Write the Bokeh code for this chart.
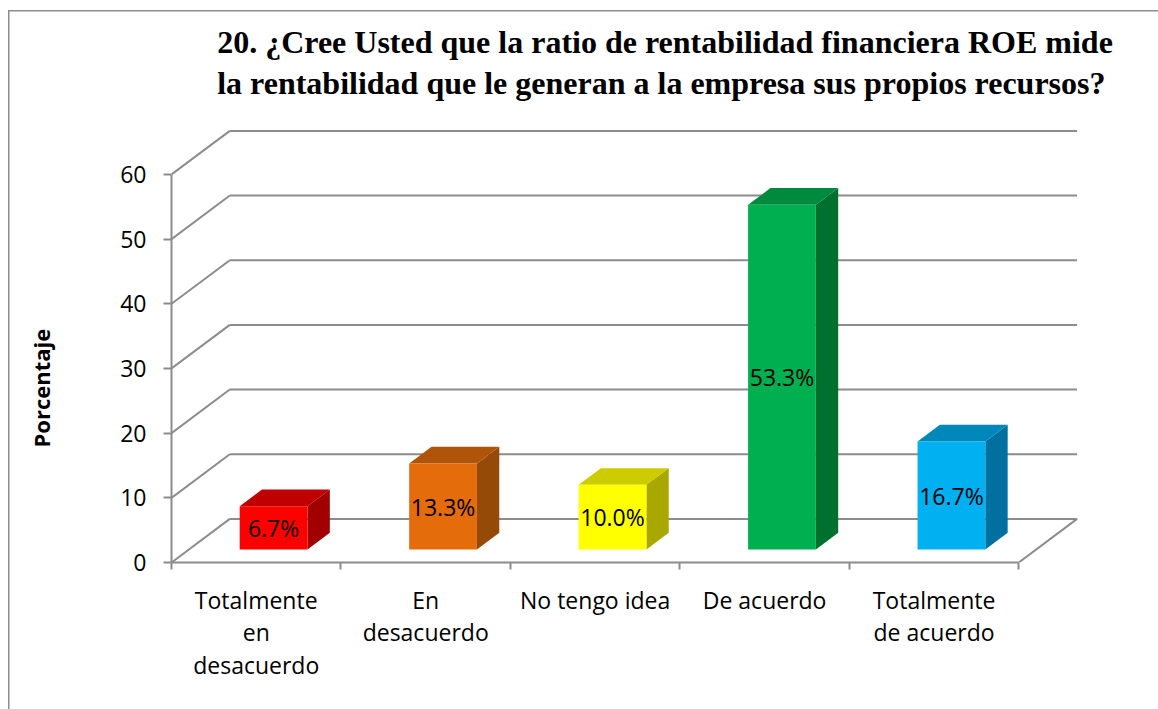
from bokeh.plotting import figure
from bokeh.models import Range1d, FixedTicker, Title
from bokeh.embed import file_html
from bokeh.resources import INLINE
from bokeh.core.properties import value

# ---------------- data ----------------
categories = ["Totalmente\nen\ndesacuerdo", "En\ndesacuerdo", "No tengo idea",
              "De acuerdo", "Totalmente\nde acuerdo"]
values = [6.7, 13.3, 10.0, 53.3, 16.7]
value_labels = ["6.7%", "13.3%", "10.0%", "53.3%", "16.7%"]
y_ticks = [0, 10, 20, 30, 40, 50, 60]
front_colors = ["#FF0000", "#E46C0A", "#FFFF00", "#00B050", "#00B0F0"]
top_colors = ["#C00000", "#B0540A", "#CCCC00", "#008A3E", "#0088BC"]
side_colors = ["#A00000", "#964A08", "#A8A800", "#00702F", "#0070A0"]
title_text = ("20. ¿Cree Usted que la ratio de rentabilidad financiera ROE mide\n"
              "la rentabilidad que le generan a la empresa sus propios recursos?")
y_title = "Porcentaje"

# ---------------- layout ----------------
W, H = 1158, 709
ML, MR, MT, MB = 171, 0, 110, 147
PX_X = 169.46          # pixels per category
PX_Y = 6.467           # pixels per percentage point
x_start = -0.5
x_end = x_start + (W - ML - MR) / PX_X
y_end = (H - MT - MB) / PX_Y
DX = 58.3 / PX_X       # depth offset of the 3D box (x units)
DY = 43.6 / PX_Y       # depth offset of the 3D box (y units)
F1, F2 = 0.298, 0.681  # bar front/back depth fractions
HW = 0.2               # half bar width
GRAY = "#8c8c8c"
n = len(categories)
x_last = n - 0.5

p = figure(width=W, height=H, x_range=Range1d(x_start, x_end), y_range=Range1d(0, y_end),
           output_backend="svg", toolbar_location=None,
           min_border_left=ML, min_border_right=MR, min_border_top=MT, min_border_bottom=MB)
p.grid.visible = False
p.outline_line_color = None
p.background_fill_color = None
p.border_fill_color = None
p.styles = {"background": (
    f"linear-gradient({GRAY},{GRAY}) 8px 10px / 1.5px 100% no-repeat, "
    f"linear-gradient({GRAY},{GRAY}) 8px 10px / 100% 1.5px no-repeat, white")}

# title
p.title.text = title_text
p.title.align = "center"
p.title.text_font = "Liberation Serif"
p.title.text_font_size = "32px"
p.title.text_font_style = "bold"
p.title.text_color = "black"
p.title.text_line_height = 1.15
p.title.standoff = 18

# ---------------- walls / floor ----------------
wall_xs, wall_ys = [], []
for v in y_ticks:
    wall_xs.append([x_start + DX, x_last + DX]); wall_ys.append([v + DY, v + DY])
    wall_xs.append([x_start, x_start + DX]); wall_ys.append([v, v + DY])
wall_xs.append([x_last, x_last + DX]); wall_ys.append([0, DY])
p.multi_line(wall_xs, wall_ys, line_color=GRAY, line_width=2)

# ---------------- bars ----------------
front_xs, front_ys, top_xs, top_ys, side_xs, side_ys = [], [], [], [], [], []
lx, ly = [], []
for i, v in enumerate(values):
    l0, r0 = i - HW + F1 * DX, i + HW + F1 * DX
    l1, r1 = i - HW + F2 * DX, i + HW + F2 * DX
    b0, b1 = F1 * DY, F2 * DY
    front_xs.append([l0, r0, r0, l0]); front_ys.append([b0, b0, v + b0, v + b0])
    top_xs.append([l0, r0, r1, l1]); top_ys.append([v + b0, v + b0, v + b1, v + b1])
    side_xs.append([r0, r1, r1, r0]); side_ys.append([b0, b1, v + b1, v + b0])
    lx.append(i + F1 * DX); ly.append(b0 + v / 2)
p.patches(side_xs, side_ys, fill_color=side_colors, line_color=None)
p.patches(top_xs, top_ys, fill_color=top_colors, line_color=None)
p.patches(front_xs, front_ys, fill_color=front_colors, line_color=None)
p.text(x=lx, y=ly, text=value_labels, text_font=value("Open Sans"), text_font_size="23px",
       text_align="center", text_baseline="middle", text_color="black")

# ---------------- axes ----------------
ya = p.yaxis[0]
ya.ticker = FixedTicker(ticks=y_ticks)
ya.bounds = (0, 60)
ya.axis_line_color = GRAY
ya.axis_line_width = 2
ya.major_tick_line_color = GRAY
ya.major_tick_line_width = 2
ya.major_tick_out = 8
ya.major_tick_in = 0
ya.minor_tick_line_color = None
ya.major_label_standoff = 17
ya.major_label_text_font = "Open Sans"
ya.major_label_text_font_size = "23px"
ya.major_label_text_color = "black"

# y title as a left-side title (extra empty lines push it to the outer edge)
p.add_layout(Title(text=y_title + "\n\n", align="left", vertical_align="top", offset=115,
                   standoff=0, text_font="Open Sans", text_font_size="22px",
                   text_font_style="bold", text_color="black", text_line_height=1.0),
             "left")

xa = p.xaxis[0]
xa.ticker = FixedTicker(ticks=list(range(n)), minor_ticks=[i - 0.5 for i in range(n + 1)])
xa.bounds = (-0.5, x_last)
xa.major_label_overrides = {i: c for i, c in enumerate(categories)}
xa.axis_line_color = GRAY
xa.axis_line_width = 2
xa.major_tick_line_color = None
xa.major_tick_out = 0
xa.major_tick_in = 0
xa.minor_tick_line_color = GRAY
xa.minor_tick_line_width = 2
xa.minor_tick_out = 7
xa.minor_tick_in = 0
xa.major_label_standoff = 14
xa.major_label_text_font = "Open Sans"
xa.major_label_text_font_size = "23px"
xa.major_label_text_color = "black"
xa.major_label_text_line_height = 1.03

open("out.html", "w").write(file_html(p, INLINE))
